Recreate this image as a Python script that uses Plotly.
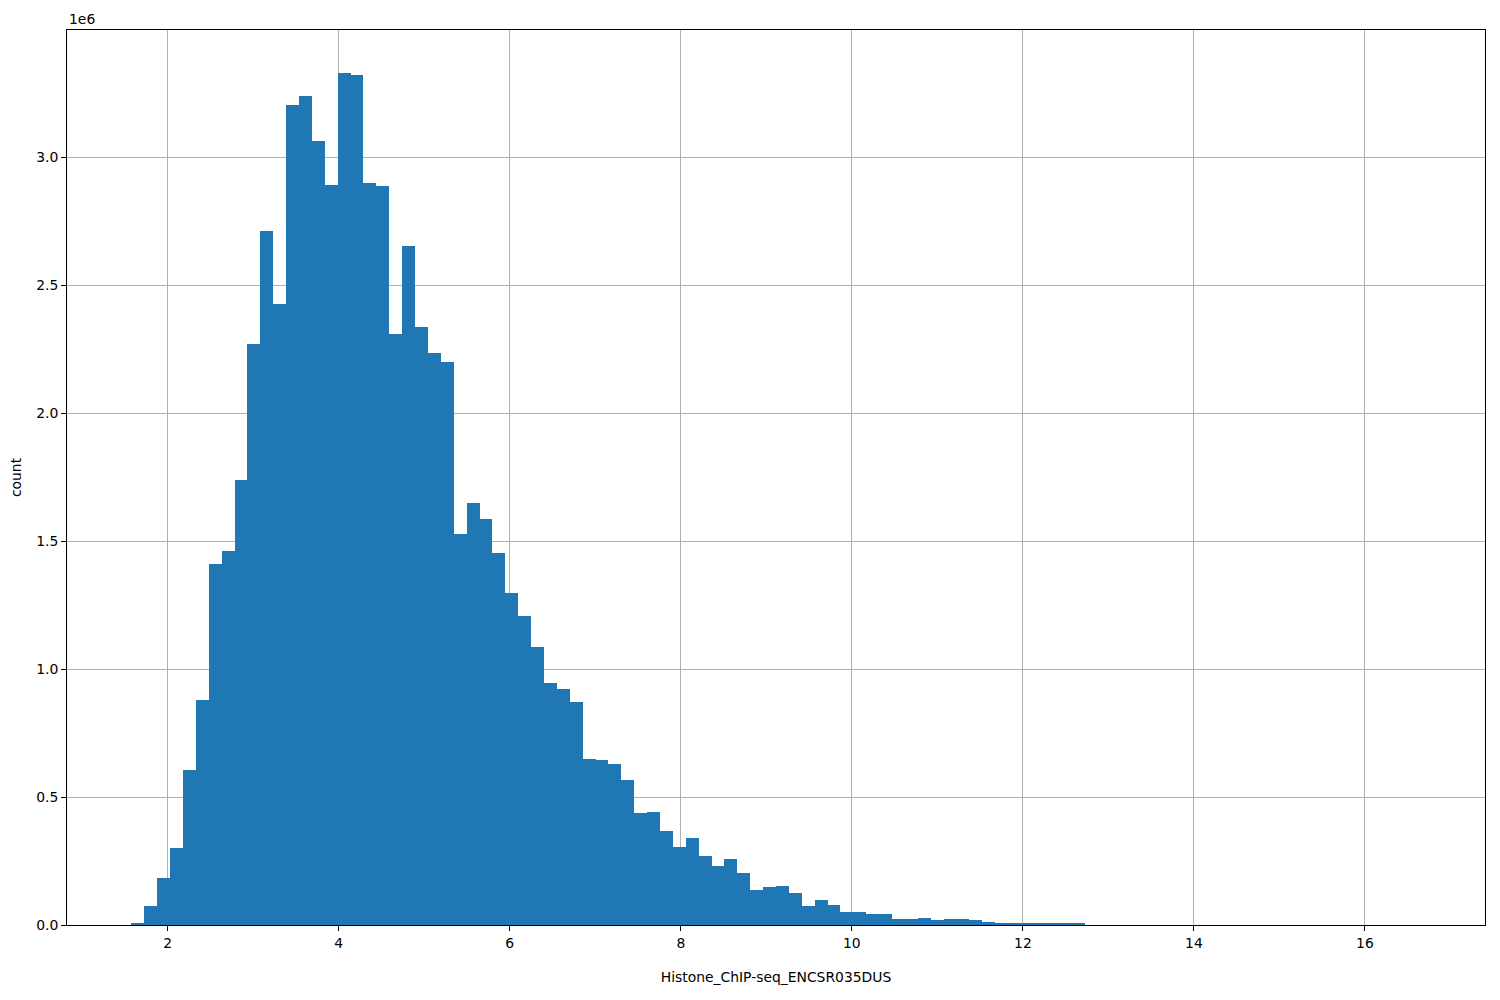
import numpy as np
import plotly.graph_objects as go

BIN_LO = 1.576
BIN_HI = 16.65
N_BINS = 100

# alturas en millones (1e6)
COUNTS_1E6 = [
    0.008, 0.074, 0.184, 0.301, 0.606, 0.880, 1.412, 1.463, 1.741, 2.272,
    2.711, 2.429, 3.207, 3.242, 3.066, 2.894, 3.332, 3.321, 2.902, 2.887,
    2.312, 2.656, 2.339, 2.237, 2.202, 1.527, 1.651, 1.588, 1.455, 1.299,
    1.209, 1.087, 0.947, 0.923, 0.872, 0.649, 0.645, 0.630, 0.567, 0.438,
    0.442, 0.368, 0.305, 0.340, 0.270, 0.231, 0.258, 0.203, 0.137, 0.149,
    0.153, 0.125, 0.074, 0.098, 0.078, 0.051, 0.051, 0.043, 0.043, 0.023,
    0.023, 0.027, 0.020, 0.023, 0.023, 0.020, 0.012, 0.008, 0.008, 0.008,
    0.004, 0.004, 0.004, 0.004, 0.0, 0.0, 0.0, 0.0, 0.0, 0.0,
    0.0, 0.0, 0.0, 0.0, 0.0, 0.0, 0.0, 0.0, 0.0, 0.0,
    0.0, 0.0, 0.0, 0.0, 0.0, 0.0, 0.0, 0.0, 0.0, 0.0,
]

X_TICKS = [2, 4, 6, 8, 10, 12, 14, 16]
Y_TICKS = [0.0, 0.5, 1.0, 1.5, 2.0, 2.5, 3.0]

X_LABEL = "Histone_ChIP-seq_ENCSR035DUS"
Y_LABEL = "count"

# ─── Figura ──────────────────────────────────────────────────────────────────

edges = np.linspace(BIN_LO, BIN_HI, N_BINS + 1)
centers = (edges[:-1] + edges[1:]) / 2
bin_w = edges[1] - edges[0]

span = BIN_HI - BIN_LO
x_range = [BIN_LO - 0.05 * span, BIN_HI + 0.05 * span]
y_range = [0, max(COUNTS_1E6) * 1.05]

FONT = dict(family="DejaVu Sans, sans-serif", size=13.9, color="black")

fig = go.Figure()
fig.add_trace(go.Bar(
    x=centers,
    y=COUNTS_1E6,
    width=bin_w,
    marker=dict(color="#1f77b4", line=dict(width=0)),
    hovertemplate="%{x:.2f}<br>%{y:.3f}e6<extra></extra>",
))

axis_common = dict(
    showline=True, linecolor="black", linewidth=1, mirror=True,
    ticks="outside", ticklen=5, tickwidth=1, tickcolor="black",
    showgrid=True, gridcolor="#b0b0b0", gridwidth=1,
    zeroline=False, layer="above traces",
    tickfont=FONT,
)

# la página añade 8 px de margen al body: se compensa aquí
fig.update_layout(
    width=1484, height=984,
    margin=dict(l=58, r=6, t=22, b=67),
    plot_bgcolor="white", paper_bgcolor="white",
    bargap=0, showlegend=False,
    font=FONT,
    xaxis=dict(
        range=x_range, tickvals=X_TICKS,
        title=dict(text=X_LABEL, font=FONT, standoff=22),
        **axis_common,
    ),
    yaxis=dict(
        range=y_range, tickvals=Y_TICKS,
        ticktext=[f"{v:.1f}" for v in Y_TICKS],
        title=dict(text=Y_LABEL, font=FONT, standoff=12),
        **axis_common,
    ),
    annotations=[dict(
        text="1e6", xref="paper", yref="paper", x=0, y=1,
        xanchor="left", yanchor="bottom", showarrow=False,
        font=FONT, yshift=1,
    )],
)

fig.write_html("out.html")
